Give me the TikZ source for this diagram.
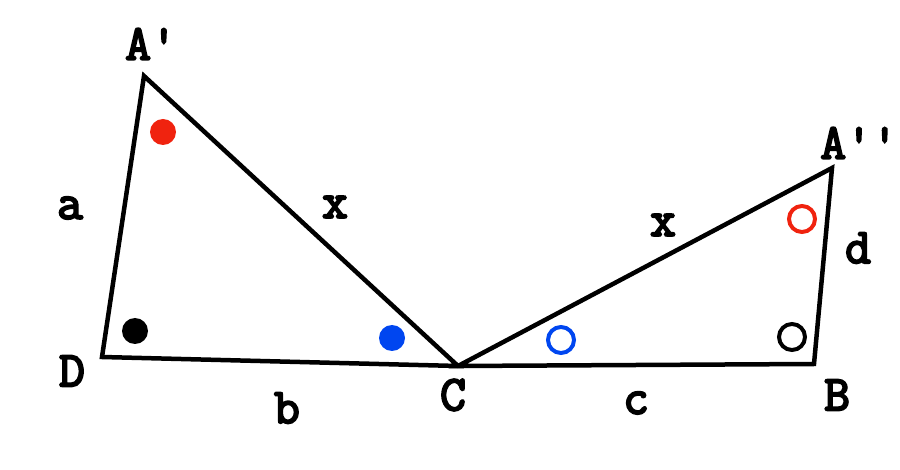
\documentclass[tikz,border=0pt]{standalone}
\usepackage{fontspec}
\newfontfamily\lblfont{Latin Modern Mono}[FakeBold=4]
\definecolor{myred}{RGB}{240,35,15}
\definecolor{myblue}{RGB}{0,70,240}
\begin{document}
\begin{tikzpicture}[x=1pt,y=-1pt,
  lbl/.style={font=\lblfont\fontsize{50}{50}\selectfont, inner sep=0pt},
  edge/.style={line width=4.5pt, line join=miter},
  fdot/.style={circle, fill=#1, minimum size=26pt, inner sep=0pt},
  odot/.style={circle, draw=#1, line width=4pt, minimum size=26pt, inner sep=0pt}]
\useasboundingbox (0,0) rectangle (900,470);
\coordinate (Ap) at (144,76);
\coordinate (D) at (102,357);
\coordinate (C) at (458,366);
\coordinate (App) at (832,168);
\coordinate (B) at (814,364);
\draw[edge] (Ap) -- (D) -- (C) -- cycle;
\draw[edge] (C) -- (App) -- (B) -- cycle;
\node[lbl] (lAp) at (151,44) {A'};
\node[lbl] (lD) at (72,371) {D};
\node[lbl] (lC) at (453,395) {C};
\node[lbl] (lApp) at (859,143) {A''};
\node[lbl] (lB) at (837,395) {B};
\node[lbl] (la) at (70,208) {a};
\node[lbl] (lx1) at (335,207) {x};
\node[lbl] (lb) at (287,408) {b};
\node[lbl] (lx2) at (663,225) {x};
\node[lbl] (lc) at (636,403) {c};
\node[lbl] (ld) at (858,248) {d};
\node[fdot=myred] (r1) at (163,132) {};
\node[fdot=black] (k1) at (135,331) {};
\node[fdot=myblue] (b1) at (392,338) {};
\node[odot=myblue] (b2) at (561,340) {};
\node[odot=black] (k2) at (792,337) {};
\node[odot=myred] (r2) at (802,219) {};
\end{tikzpicture}
\end{document}
